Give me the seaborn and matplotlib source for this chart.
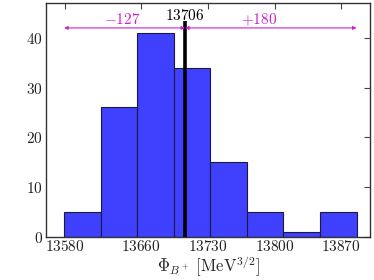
import numpy as np
import pandas as pd
import matplotlib
matplotlib.use("Agg")
import matplotlib.pyplot as plt
import seaborn as sns
from matplotlib.ticker import FuncFormatter

sns.set_style("white")
plt.rcParams['mathtext.fontset'] = 'cm'
plt.rcParams['font.family'] = ['DejaVu Serif']

counts = [5, 26, 41, 34, 15, 5, 1, 5]
x_min, x_max = 13579, 13886
central = 13706
minus_err, plus_err = -127, 180
xticks = [13580, 13660, 13730, 13800, 13870]
yticks = [0, 10, 20, 30, 40]

nb = len(counts)
bw = (x_max - x_min) / nb
centers = x_min + bw * (np.arange(nb) + 0.5)
df = pd.DataFrame({'phi': centers, 'n': counts})

fig = plt.figure(figsize=(3.74, 2.8), dpi=100)
ax = fig.add_axes([0.123, 0.155, 0.866, 0.834])
sns.histplot(data=df, x='phi', weights='n', bins=nb, binrange=(x_min, x_max), ax=ax,
             color=(0.25, 0.25, 1.0), alpha=1.0, edgecolor='#1a1a40', linewidth=0.8)

ax.vlines(central, 0, 43.4, color='black', linewidth=2.6, zorder=5)
ax.annotate('', xy=(x_min, 42), xytext=(central, 42),
            arrowprops=dict(arrowstyle='<|-|>', color='#cc22cc', lw=0.8,
                            mutation_scale=5, shrinkA=0, shrinkB=0), zorder=6)
ax.annotate('', xy=(central, 42), xytext=(x_max, 42),
            arrowprops=dict(arrowstyle='<|-|>', color='#cc22cc', lw=0.8,
                            mutation_scale=5, shrinkA=0, shrinkB=0), zorder=6)
ax.text(13640, 42.8, r'$-%d$' % abs(minus_err), color='#cc22cc', ha='center', va='baseline', fontsize=11)
ax.text(13784, 42.8, r'$+%d$' % plus_err, color='#cc22cc', ha='center', va='baseline', fontsize=11)
ax.text(central, 43.5, r'$%d$' % central, color='black', ha='center', va='baseline', fontsize=11)

ax.set_xlim(13560, 13900)
ax.set_ylim(0, 47)
ax.set_xticks(xticks)
ax.set_yticks(yticks)
ax.xaxis.set_major_formatter(FuncFormatter(lambda v, p: r'$%d$' % round(v)))
ax.yaxis.set_major_formatter(FuncFormatter(lambda v, p: r'$%d$' % round(v)))
ax.tick_params(direction='in', length=4, width=0.8, color='#444444', labelsize=11,
               top=True, right=True, labelcolor='#222222', pad=2)
ax.set_ylabel('')
ax.set_xlabel(r'$\Phi_{B^+}\ [\mathrm{MeV}^{3/2}]$', fontsize=12, labelpad=0)
for s in ax.spines.values():
    s.set_color('#333333')
    s.set_linewidth(1.0)

fig.savefig('out.png', dpi=100)
